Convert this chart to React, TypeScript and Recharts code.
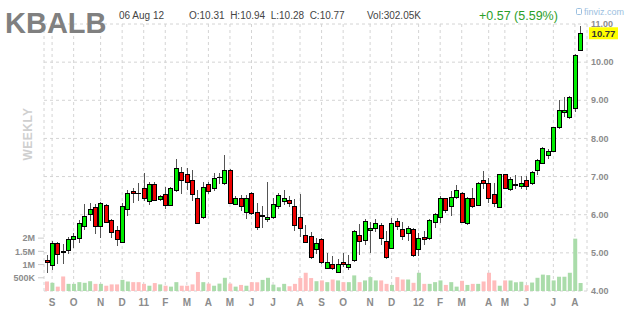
import React from 'react';
import { ComposedChart, Bar, XAxis, YAxis, CartesianGrid, ReferenceLine, Cell } from 'recharts';

const ticker = 'KBALB';
const headerDate = '06 Aug 12';
const headerOHLC = 'O:10.31  H:10.94  L:10.28  C:10.77';
const headerVol = 'Vol:302.05K';
const headerChange = '+0.57 (5.59%)';
const lastWeek = '2012-08-06';
const lastClose = 10.77;

const openPrices = [
  4.82, 4.68, 5.26, 5.05, 5.07, 5.37, 5.40, 5.71, 6.01, 6.21,
  5.71, 6.26, 5.86, 5.59, 5.29, 6.14, 6.62, 6.58, 6.69, 6.36,
  6.80, 6.40, 6.54, 6.26, 6.65, 7.13, 7.07, 6.91, 6.45, 5.94,
  6.80, 6.71, 6.98, 6.82, 7.17, 6.28, 6.43, 6.07, 6.57, 6.08,
  5.96, 5.90, 5.94, 6.23, 6.36, 6.38, 6.23, 5.93, 5.46, 5.44,
  5.09, 5.36, 4.61, 4.70, 4.50, 4.76, 4.63, 4.81, 5.46, 5.35,
  5.61, 5.64, 5.74, 5.30, 5.13, 5.83, 5.62, 5.51, 5.62, 5.09,
  5.42, 5.40, 5.81, 5.95, 6.43, 6.22, 6.47, 6.56, 5.77, 6.45,
  6.25, 6.90, 6.82, 6.54, 6.21, 7.06, 6.67, 6.78, 6.76, 6.91,
  6.82, 7.16, 7.36, 7.57, 7.67, 8.29, 8.69, 8.57, 8.81, 10.31,
];
const highPrices = [
  4.94, 5.31, 5.29, 5.22, 5.42, 5.53, 5.86, 6.28, 6.30, 6.27,
  6.34, 6.28, 5.88, 5.70, 6.30, 6.66, 6.69, 6.82, 7.09, 6.87,
  6.87, 6.52, 6.73, 6.73, 7.45, 7.26, 7.22, 7.17, 6.65, 6.86,
  6.86, 7.09, 7.09, 7.56, 7.20, 6.50, 6.52, 6.51, 6.60, 6.30,
  6.22, 6.86, 6.45, 6.58, 6.64, 6.50, 6.40, 6.55, 5.72, 5.55,
  5.40, 5.40, 5.00, 4.92, 4.85, 5.00, 4.94, 5.60, 5.76, 5.90,
  5.81, 5.88, 5.78, 5.57, 5.92, 5.92, 5.80, 5.70, 5.65, 5.53,
  5.57, 5.90, 6.05, 6.50, 6.45, 6.62, 6.77, 6.60, 6.46, 6.70,
  6.86, 7.15, 6.95, 6.82, 7.08, 7.08, 7.00, 7.04, 7.02, 7.02,
  7.15, 7.45, 7.78, 7.71, 8.31, 9.00, 9.08, 9.12, 10.22, 10.94,
];
const lowPrices = [
  4.47, 4.54, 4.72, 4.71, 4.97, 5.14, 5.26, 5.59, 5.84, 5.49,
  5.39, 5.79, 5.39, 5.17, 5.26, 5.96, 6.30, 6.35, 6.35, 6.25,
  6.36, 6.36, 6.14, 6.22, 6.60, 6.54, 6.65, 6.36, 5.75, 5.90,
  6.55, 6.62, 6.81, 6.78, 6.28, 6.25, 6.10, 5.89, 6.00, 5.60,
  5.66, 5.81, 5.90, 6.15, 6.26, 6.20, 5.56, 5.42, 5.25, 4.85,
  4.98, 4.72, 4.57, 4.55, 4.46, 4.62, 4.55, 4.75, 4.95, 5.20,
  5.00, 5.55, 5.20, 4.85, 5.10, 5.60, 5.35, 5.30, 4.90, 4.91,
  5.20, 5.35, 5.65, 5.77, 6.05, 5.97, 6.40, 5.78, 5.74, 6.18,
  6.22, 6.67, 6.30, 6.20, 6.18, 6.68, 6.62, 6.68, 6.68, 6.66,
  6.78, 7.03, 7.32, 7.45, 7.65, 8.25, 8.57, 8.51, 8.70, 10.28,
];
const closePrices = [
  4.75, 5.26, 4.98, 5.03, 5.36, 5.44, 5.79, 5.97, 6.16, 5.71,
  6.30, 5.81, 5.55, 5.36, 6.24, 6.56, 6.56, 6.56, 6.43, 6.80,
  6.38, 6.48, 6.26, 6.69, 7.22, 6.91, 6.86, 6.54, 5.79, 6.73,
  6.63, 6.97, 7.00, 7.17, 6.31, 6.45, 6.22, 6.45, 6.05, 5.68,
  5.98, 5.95, 6.27, 6.51, 6.44, 6.32, 5.74, 5.64, 5.29, 4.88,
  5.27, 4.76, 4.75, 4.61, 4.70, 4.70, 4.71, 5.57, 5.31, 5.83,
  5.66, 5.79, 5.38, 4.89, 5.77, 5.70, 5.44, 5.64, 4.94, 5.40,
  5.37, 5.86, 6.01, 6.45, 6.12, 6.47, 6.64, 5.81, 6.43, 6.22,
  6.82, 6.84, 6.45, 6.31, 7.06, 6.71, 6.93, 6.80, 6.82, 6.76,
  7.13, 7.44, 7.75, 7.68, 8.31, 8.75, 8.74, 9.08, 10.19, 10.77,
];
const volumes = [
  360000, 310000, 165000, 550000, 270000, 270000, 335000, 310000, 370000, 270000,
  270000, 200000, 250000, 250000, 420000, 360000, 335000, 335000, 270000, 200000,
  300000, 250000, 200000, 165000, 335000, 200000, 200000, 250000, 720000, 335000,
  280000, 200000, 280000, 500000, 280000, 165000, 230000, 200000, 335000, 335000,
  420000, 500000, 240000, 140000, 270000, 180000, 270000, 490000, 690000, 490000,
  370000, 400000, 335000, 435000, 400000, 335000, 335000, 590000, 335000, 400000,
  525000, 400000, 400000, 270000, 230000, 525000, 435000, 435000, 310000, 690000,
  270000, 270000, 335000, 400000, 230000, 335000, 165000, 385000, 230000, 270000,
  270000, 360000, 690000, 400000, 200000, 400000, 400000, 330000, 350000, 220000,
  320000, 500000, 620000, 600000, 400000, 540000, 540000, 690000, 1980000, 302050,
];

// week index at which each month's grid line / label sits, with its label
const monthTickWeeks = [1, 5, 10, 14, 18, 22, 26, 30, 34, 38, 42, 47, 51, 55, 60, 64, 69, 73, 77, 82, 85, 89, 94, 98];
const monthTickLabels = ['S', 'O', 'N', 'D', '11', 'F', 'M', 'A', 'M', 'J', 'J', 'A', 'S', 'O', 'N', 'D', '12', 'F', 'M', 'A', 'M', 'J', 'J', 'A'];

const priceTicks = [4, 5, 6, 7, 8, 9, 10, 11];
const volumeTicks = [500000, 1000000, 1500000, 2000000];
const volumeTickLabels = ['500K', '1M', '1.5M', '2M'];

const DAY = 86400000;
const N = closePrices.length;
const lastTime = Date.parse(lastWeek + 'T00:00:00Z');
const weekKeys = Array.from({ length: N }, (_, i) =>
  new Date(lastTime - (N - 1 - i) * 7 * DAY).toISOString().slice(0, 10)
);

const monthLabelByWeek = new Map<string, string>();
monthTickWeeks.forEach((wi, j) => monthLabelByWeek.set(weekKeys[wi], monthTickLabels[j]));
const monthTicks = monthTickWeeks.map((wi) => weekKeys[wi]);

const data = weekKeys.map((week, i) => ({
  week,
  open: openPrices[i],
  high: highPrices[i],
  low: lowPrices[i],
  close: closePrices[i],
  volume: volumes[i],
  range: [lowPrices[i], highPrices[i]],
}));

const FONT = 'Arial, "Liberation Sans", sans-serif';
const AXIS_GRAY = '#8c8c8c';

const Candle = (props: any) => {
  const { x, y, width, height, payload } = props;
  if (x == null || y == null) return null;
  const top = Math.min(y, y + height);
  const h = Math.abs(height);
  const { open, close, high, low } = payload;
  const span = high - low || 1;
  const py = (v: number) => top + ((high - v) / span) * h;
  const c = Math.round(x + width / 2);
  const bodyTop = Math.round(py(Math.max(open, close)));
  const bodyBot = Math.round(py(Math.min(open, close)));
  const up = close >= open;
  const flat = bodyBot - bodyTop < 1;
  return (
    <g>
      <line x1={c + 0.5} x2={c + 0.5} y1={Math.round(top)} y2={Math.round(top + h)} stroke="#555" strokeWidth={1} />
      {flat ? (
        <line x1={c - 2} x2={c + 3} y1={bodyTop + 0.5} y2={bodyTop + 0.5} stroke="#000" strokeWidth={1} />
      ) : (
        <rect
          x={c - 1.5}
          y={bodyTop + 0.5}
          width={4}
          height={bodyBot - bodyTop}
          fill={up ? '#00ee00' : '#ee0000'}
          stroke="#000"
          strokeWidth={1}
        />
      )}
    </g>
  );
};

const LastPriceLabel = (props: any) => {
  const vb = props.viewBox;
  if (!vb) return null;
  const x = vb.x + vb.width + 2;
  const y = vb.y;
  return (
    <g>
      <rect x={x} y={y - 5.5} width={29} height={12} fill="#ffff00" />
      <text x={x + 14.5} y={y + 0.5} dy="0.36em" textAnchor="middle" fontFamily={FONT} fontSize={9.5} fontWeight="bold" fill="#333">
        {lastClose.toFixed(2)}
      </text>
    </g>
  );
};

export default function App() {
  return (
    <div style={{ position: 'absolute', left: 0, top: 0, width: 630, height: 315, background: '#fff', fontFamily: FONT }}>
      <ComposedChart
        width={630}
        height={315}
        data={data}
        margin={{ top: 24, right: 0, bottom: 0, left: 0 }}
      >
        <CartesianGrid xAxisId="main" yAxisId="price" stroke="#d4d4d4" strokeDasharray="3 3" />
        <XAxis
          xAxisId="main"
          dataKey="week"
          ticks={monthTicks}
          interval={0}
          tickFormatter={(k: string) => monthLabelByWeek.get(k) || ''}
          axisLine={false}
          tickLine={false}
          tickSize={0}
          tickMargin={8}
          height={24}
          padding={{ left: 0, right: 4 }}
          tick={{ fill: AXIS_GRAY, fontSize: 10, fontWeight: 'bold', fontFamily: FONT }}
        />
        <XAxis xAxisId="vol" dataKey="week" hide padding={{ left: 0, right: 4 }} />
        <YAxis
          yAxisId="vol"
          orientation="left"
          width={44}
          domain={[0, 10100000]}
          ticks={volumeTicks}
          interval={0}
          tickFormatter={(v: number) => volumeTickLabels[volumeTicks.indexOf(v)]}
          axisLine={false}
          tickLine={{ stroke: '#cccccc' }}
          tickSize={6}
          tickMargin={3}
          tick={{ fill: AXIS_GRAY, fontSize: 9, fontWeight: 'bold', fontFamily: FONT }}
        />
        <YAxis
          yAxisId="price"
          orientation="right"
          width={43}
          domain={[4, 11]}
          ticks={priceTicks}
          interval={0}
          tickFormatter={(v: number) => v.toFixed(2)}
          axisLine={false}
          tickLine={false}
          tickSize={0}
          tickMargin={4}
          tick={{ fill: AXIS_GRAY, fontSize: 9, fontWeight: 'bold', fontFamily: FONT }}
        />
        <Bar xAxisId="vol" yAxisId="vol" dataKey="volume" barSize={4} isAnimationActive={false}>
          {data.map((d) => (
            <Cell key={d.week} fill={d.close >= d.open ? '#aadcaa' : '#ffbcbc'} />
          ))}
        </Bar>
        <Bar xAxisId="main" yAxisId="price" dataKey="range" barSize={5} shape={Candle} isAnimationActive={false} />
        <ReferenceLine xAxisId="main" yAxisId="price" y={lastClose} stroke="none" label={LastPriceLabel} />
      </ComposedChart>
      <svg width={630} height={315} style={{ position: 'absolute', left: 0, top: 0, pointerEvents: 'none' }}>
        <text x={5} y={33} fontFamily={FONT} fontSize={29} fontWeight="bold" fill="#808080">{ticker}</text>
        <text x={119} y={19} fontFamily={FONT} fontSize={10} fill="#444">{headerDate}</text>
        <text x={189} y={19} fontFamily={FONT} fontSize={10} fill="#444" style={{ whiteSpace: 'pre' }}>{headerOHLC}</text>
        <text x={367} y={19} fontFamily={FONT} fontSize={10} fill="#444">{headerVol}</text>
        <text x={479} y={20} fontFamily={FONT} fontSize={12.5} fill="#2aa02a">{headerChange}</text>
        <g>
          <rect x={576.5} y={8.5} width={5} height={6} rx={1} fill="none" stroke="#9cc0e0" strokeWidth={1} />
          <text x={584} y={15} fontFamily={FONT} fontSize={9} fill="#9cc0e0">finviz.com</text>
        </g>
        <text x={0} y={0} transform="translate(32,134) rotate(-90)" textAnchor="middle" fontFamily={FONT} fontSize={12} fontWeight="bold" fill="#cfcfcf" letterSpacing={0.5}>WEEKLY</text>
      </svg>
    </div>
  );
}
